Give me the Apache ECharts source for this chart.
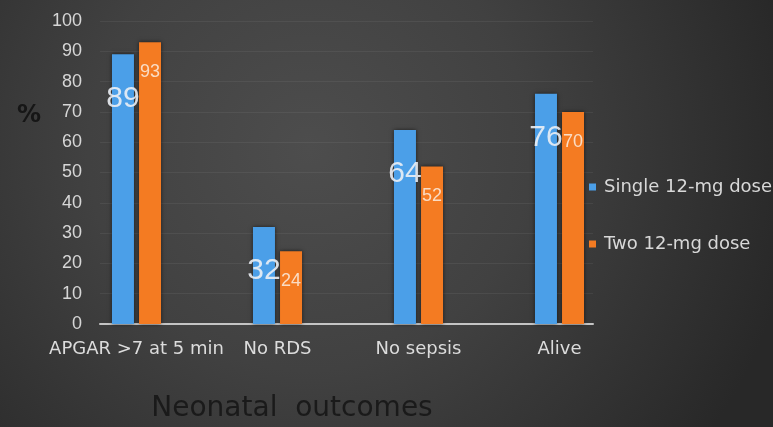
<!DOCTYPE html>
<html>
<head>
<meta charset="utf-8">
<script src="https://cdn.jsdelivr.net/npm/echarts@6/dist/echarts.min.js"></script>
<style>
  html, body { margin: 0; padding: 0; background: #333; }
  #chart { width: 773px; height: 427px; }
</style>
</head>
<body>
<div id="chart"></div>
<script>
// Neonatal outcomes by antenatal steroid regimen (%)
const categories = ['APGAR >7 at 5 min', 'No RDS', 'No sepsis', 'Alive'];
const singleDose = [89, 32, 64, 76];
const twoDose = [93, 24, 52, 70];
const seriesNames = ['Single 12-mg dose', 'Two 12-mg dose'];
const yTicks = { min: 0, max: 100, step: 10 };

const chart = echarts.init(document.getElementById('chart'), null, { renderer: 'canvas' });

const numFont = '"Liberation Sans", Arial, sans-serif';
const textFont = '"DejaVu Sans", sans-serif';

const gridTop = 21, gridBottom = 103;

const barShadow = {
  shadowBlur: 4,
  shadowColor: 'rgba(0,0,0,0.6)'
};

chart.setOption({
  backgroundColor: {
    type: 'radial', x: 0.4, y: 0.35, r: 1.15,
    colorStops: [
      { offset: 0, color: '#4d4d4d' },
      { offset: 0.45, color: '#414141' },
      { offset: 1, color: '#282828' }
    ]
  },
  animation: false,
  grid: [
    // frame: value axis, gridlines and baseline
    { left: 100, width: 493, top: gridTop, bottom: gridBottom },
    // bars and category labels
    { left: 66, width: 564, top: gridTop, bottom: gridBottom }
  ],
  xAxis: [
    {
      gridIndex: 0, type: 'category', data: categories,
      axisLine: { show: true, lineStyle: { color: '#c4c4c4', width: 2 } },
      axisTick: { show: false }, axisLabel: { show: false }
    },
    {
      gridIndex: 1, type: 'category', data: categories,
      axisLine: { show: false }, axisTick: { show: false },
      axisLabel: {
        interval: 0, margin: 16,
        color: '#dcdcdc', fontFamily: textFont, fontSize: 18
      }
    }
  ],
  yAxis: [
    {
      gridIndex: 0, type: 'value',
      min: yTicks.min, max: yTicks.max, interval: yTicks.step,
      axisLine: { show: false }, axisTick: { show: false },
      axisLabel: { margin: 18, color: '#d6d6d6', fontFamily: numFont, fontSize: 18 },
      splitLine: { show: true, lineStyle: { color: 'rgba(255,255,255,0.06)', width: 1 } }
    },
    {
      gridIndex: 1, type: 'value',
      min: yTicks.min, max: yTicks.max, interval: yTicks.step,
      show: false, splitLine: { show: false }
    }
  ],
  legend: {
    orient: 'vertical',
    left: 584, top: 173,
    itemWidth: 7, itemHeight: 7, itemGap: 39,
    icon: 'rect',
    data: seriesNames,
    textStyle: { color: '#d8d8d8', fontFamily: textFont, fontSize: 18, padding: [0, 0, 0, 3] }
  },
  graphic: [
    {
      type: 'text', left: 17, top: 104,
      style: { text: '%', fill: '#161616', font: 'bold 24px "DejaVu Sans", sans-serif' }
    },
    {
      type: 'text', x: 292, y: 409,
      style: {
        text: 'Neonatal  outcomes', fill: '#1a1a1a',
        font: '28px "DejaVu Sans", sans-serif',
        align: 'center', verticalAlign: 'middle'
      }
    }
  ],
  series: [
    {
      name: seriesNames[0], type: 'bar',
      xAxisIndex: 1, yAxisIndex: 1,
      data: singleDose,
      barWidth: 22, barGap: '23%',
      itemStyle: Object.assign({ color: '#4b9fe8' }, barShadow),
      label: {
        show: true, position: ['50%', 44],
        align: 'center', verticalAlign: 'middle',
        color: 'rgba(236,240,245,0.9)', fontFamily: numFont, fontSize: 30
      }
    },
    {
      name: seriesNames[1], type: 'bar',
      xAxisIndex: 1, yAxisIndex: 1,
      data: twoDose,
      barWidth: 22,
      itemStyle: Object.assign({ color: '#f47b22' }, barShadow),
      label: {
        show: true, position: ['50%', 30],
        align: 'center', verticalAlign: 'middle',
        color: 'rgba(250,225,205,0.95)', fontFamily: numFont, fontSize: 18
      }
    }
  ]
});
</script>
</body>
</html>
